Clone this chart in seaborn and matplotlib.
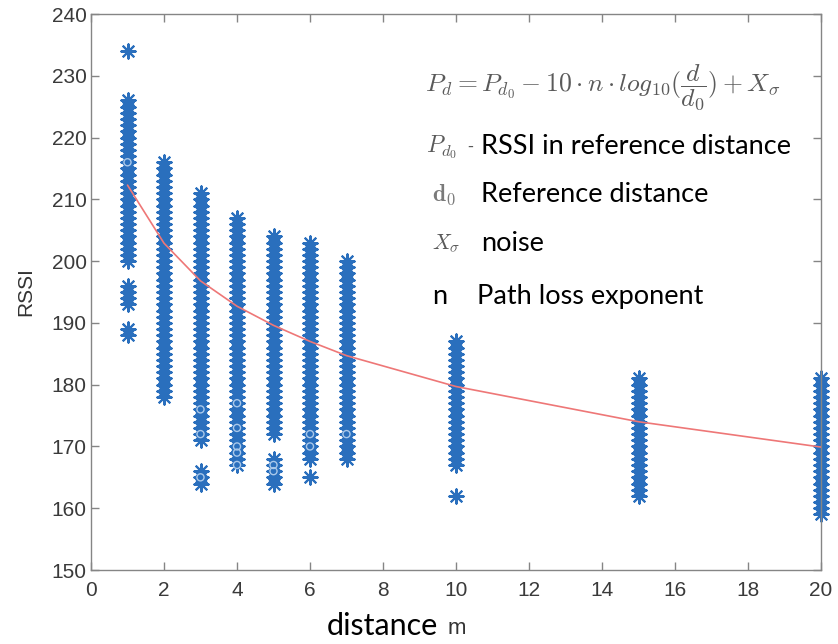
import numpy as np
import pandas as pd
import matplotlib
matplotlib.use("Agg")
import matplotlib.pyplot as plt
import seaborn as sns

# Measured RSSI readings at each test distance (metres)
distances = [1, 2, 3, 4, 5, 6, 7, 10, 15, 20]
rssi_readings = {
    1: [*range(200, 227), *range(193, 197), 188, 189, 234],
    2: [*range(178, 217)],
    3: [*range(171, 212), *range(164, 167)],
    4: [*range(167, 208)],
    5: [*range(172, 205), *range(164, 169)],
    6: [*range(168, 204), 165],
    7: [*range(168, 201)],
    10: [*range(167, 188), 162],
    15: [*range(162, 182)],
    20: [*range(159, 182)],
}

# Repeated readings shown with an open-circle marker
circle_x = [1, 3, 3, 3, 4, 4, 4, 4, 4, 5, 5, 6, 6, 7]
circle_rssi = [216, 176, 172, 165, 177, 173, 170, 169, 167, 167, 166, 172, 170, 172]

# Log-distance path-loss fit evaluated at the test distances
fit_rssi = [212.3, 202.9, 196.8, 192.7, 189.6, 187.0, 184.7, 179.7, 174.0, 169.9]

x_ticks = [0, 2, 4, 6, 8, 10, 12, 14, 16, 18, 20]
y_ticks = [150, 160, 170, 180, 190, 200, 210, 220, 230, 240]

points = pd.DataFrame(
    [(d, v) for d in distances for v in rssi_readings[d]],
    columns=["distance", "RSSI"],
)
circles = pd.DataFrame({"distance": circle_x, "RSSI": circle_rssi})
fit = pd.DataFrame({"distance": distances, "RSSI": fit_rssi})

sns.set_style("white")
plt.rcParams["font.family"] = ["Liberation Sans", "DejaVu Sans"]
plt.rcParams["mathtext.fontset"] = "cm"

W, H = 838, 644
fig = plt.figure(figsize=(W / 100, H / 100), dpi=100)
ax = fig.add_axes([91 / W, 1 - 570 / H, (821 - 91) / W, (570 - 14) / H])

blue = "#2a6fbd"
asterisk = (8, 2, 0)

sns.scatterplot(data=points, x="distance", y="RSSI", ax=ax, marker=asterisk,
                s=105, color=blue, edgecolor=blue, linewidth=1.5, legend=False,
                zorder=2, clip_on=False)
sns.scatterplot(data=circles, x="distance", y="RSSI", ax=ax, marker="o",
                s=26, facecolor="none", edgecolor="#a9c8ea", linewidth=1.0,
                legend=False, zorder=3, clip_on=False)
sns.lineplot(data=fit, x="distance", y="RSSI", ax=ax, color="#ee7777",
             linewidth=1.2, zorder=4, legend=False)

ax.set_xlim(0, 20)
ax.set_ylim(150, 240)
ax.set_xticks(x_ticks)
ax.set_yticks(y_ticks)
ax.set_xlabel("")
ax.set_ylabel("RSSI", fontsize=15, color="#333333", labelpad=12)

spine_color = "#858585"
for sp in ax.spines.values():
    sp.set_visible(True)
    sp.set_color(spine_color)
    sp.set_linewidth(1.0)
ax.tick_params(axis="both", which="major", direction="in", length=6, width=1,
               color=spine_color, labelsize=15, labelcolor="#3a3a3a",
               top=True, right=True, bottom=True, left=True)
ax.tick_params(axis="x", pad=8)
ax.tick_params(axis="y", pad=3)

# x-axis title: word plus unit
fig.text(382 / W, 1 - 626 / H, "distance", fontsize=22, family=["Lato", "DejaVu Sans"],
         color="black", ha="center", va="center")
fig.text(457 / W, 1 - 629 / H, "m", fontsize=16, color="#333333",
         ha="center", va="center")

# Path-loss model and legend of its symbols
gray = "#5a5a5a"
txt_font = ["Lato", "DejaVu Sans"]
fig.text(425 / W, 1 - 87 / H,
         r"$P_d = P_{d_0} - 10\cdot n\cdot log_{10}(\dfrac{d}{d_0}) + X_\sigma$",
         fontsize=18.5, color=gray, ha="left", va="center")

fig.text(426 / W, 1 - 147 / H, r"$P_{d_0}$", fontsize=17, color=gray,
         ha="left", va="center")
fig.text(467 / W, 1 - 147 / H, "-", fontsize=13, color=gray, ha="left", va="center")
fig.text(481 / W, 1 - 147 / H, "RSSI in reference distance", fontsize=19.5,
         family=txt_font, color="black", ha="left", va="center")

fig.text(432 / W, 1 - 195 / H, r"$\mathbf{d_0}$", fontsize=17, color="#7a7a7a",
         ha="left", va="center")
fig.text(481 / W, 1 - 195 / H, "Reference distance", fontsize=19.5,
         family=txt_font, color="black", ha="left", va="center")

fig.text(432 / W, 1 - 244 / H, r"$X_\sigma$", fontsize=15.5, color=gray,
         ha="left", va="center")
fig.text(481 / W, 1 - 244 / H, "noise", fontsize=19.5,
         family=txt_font, color="black", ha="left", va="center")

fig.text(432 / W, 1 - 297 / H, "n", fontsize=19.5, family=txt_font, color="black",
         ha="left", va="center")
fig.text(477 / W, 1 - 297 / H, "Path loss exponent", fontsize=19.5,
         family=txt_font, color="black", ha="left", va="center")

fig.savefig("out.png", dpi=100, facecolor="white")
